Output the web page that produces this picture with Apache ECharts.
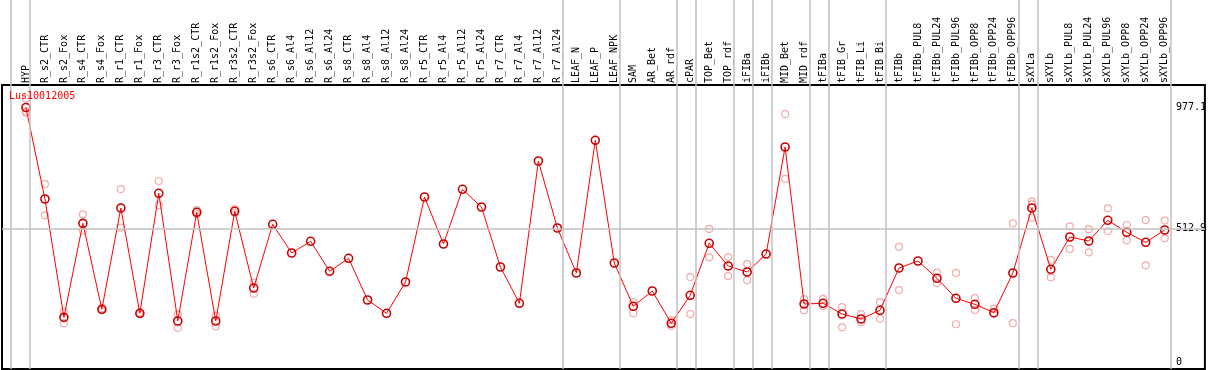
<!DOCTYPE html>
<html>
<head>
<meta charset="utf-8">
<script src="https://cdn.jsdelivr.net/npm/echarts@6/dist/echarts.min.js"></script>
<style>
html,body{margin:0;padding:0;background:#fff;}
#chart{width:1209px;height:370px;}
</style>
</head>
<body>
<div id="chart"></div>
<script>
const geneName = 'Lus10012005';
const categories = ['HYP','R_s2_CTR','R_s2_Fox','R_s4_CTR','R_s4_Fox','R_r1_CTR','R_r1_Fox','R_r3_CTR','R_r3_Fox','R_r1s2_CTR','R_r1s2_Fox','R_r3s2_CTR','R_r3s2_Fox','R_s6_CTR','R_s6_Al4','R_s6_Al12','R_s6_Al24','R_s8_CTR','R_s8_Al4','R_s8_Al12','R_s8_Al24','R_r5_CTR','R_r5_Al4','R_r5_Al12','R_r5_Al24','R_r7_CTR','R_r7_Al4','R_r7_Al12','R_r7_Al24','LEAF_N','LEAF_P','LEAF_NPK','SAM','AR_Bet','AR_rdf','cPAR','TOP_Bet','TOP_rdf','iFIBa','iFIBb','MID_Bet','MID_rdf','tFIBa','tFIB_Gr','tFIB_Li','tFIB_Bi','tFIBb','tFIBb_PUL8','tFIBb_PUL24','tFIBb_PUL96','tFIBb_OPP8','tFIBb_OPP24','tFIBb_OPP96','sXYLa','sXYLb','sXYLb_PUL8','sXYLb_PUL24','sXYLb_PUL96','sXYLb_OPP8','sXYLb_OPP24','sXYLb_OPP96'];
const means = [977.1,625.8,171.5,532.4,202.3,591.3,186.9,647.7,157.4,574.7,157.4,578.6,284.0,528.7,418.5,463.4,348.2,398.1,238.0,186.9,307.2,633.5,453.0,663.0,595.1,364.7,225.3,771.7,514.5,341.7,851.2,380.1,213.8,272.6,148.6,256.1,455.7,368.6,345.5,414.7,825.5,222.7,225.3,184.3,165.1,198.5,360.9,387.8,321.3,244.5,221.5,189.3,341.7,591.3,355.9,479.9,464.6,544.0,497.9,459.5,506.8];
const rep1 = [1012,683,193,567,206,664,190,695,183,583,178,587,305,null,null,null,null,null,null,null,null,null,null,null,null,null,null,null,null,null,null,null,230,null,161,326,511,403,376,null,952,241,242,211,184,230,442,null,343,342,245,205,532,617,392,521,510,590,526,545,543];
const rep2 = [957,563,149,504,199,516,184,602,131,568,136,573,262,null,null,null,null,null,null,null,null,null,null,null,null,null,null,null,null,null,null,null,187,null,139,184,402,330,314,null,703,199,215,133,152,166,276,null,302,145,200,184,149,553,325,434,421,502,467,371,475];
const rep3 = [962,null,null,null,null,null,null,null,null,null,null,null,null,null,null,null,null,null,null,null,null,null,null,null,null,null,null,null,null,null,null,null,null,null,null,null,null,null,null,null,null,null,null,null,null,null,null,null,null,null,null,null,null,605,null,null,null,null,null,null,null];
const tickLabels = [0, 512.9, 977.1];
const refLine = 512.9;
const groupEnds = [-1,0,28,31,34,35,37,38,39,41,42,45,52,53,60];

const X_MIN = -1.262, X_MAX = 62.118, Y_MIN = -26.9, Y_MAX = 1063.5;
const SEP_OFFSET = 0.21;
const MONO = 'DejaVu Sans Mono';

const repPoints = [];
[rep1, rep2, rep3].forEach(arr => arr.forEach((v, i) => { if (v != null) repPoints.push([i, v]); }));
const meanPoints = means.map((v, i) => [i, v]);

const chart = echarts.init(document.getElementById('chart'), null, {renderer: 'canvas'});
chart.setOption({
  animation: false,
  backgroundColor: '#fff',
  title: {
    text: geneName, left: 9, top: 91, padding: 0, z: 10,
    textStyle: {fontFamily: MONO, fontSize: 10, color: '#ff0000', fontWeight: 'normal'}
  },
  grid: [
    {left: 2, top: 0, width: 1205, height: 369, show: false},
    {left: 2, top: 85, width: 1205, height: 284, show: true, borderColor: '#000', borderWidth: 2, backgroundColor: 'transparent', z: 5}
  ],
  xAxis: [
    {gridIndex: 0, type: 'value', min: X_MIN, max: X_MAX, show: false},
    {gridIndex: 1, type: 'value', min: X_MIN, max: X_MAX, position: 'top',
     axisLine: {show: false}, axisTick: {show: false}, splitLine: {show: false},
     axisLabel: {
       customValues: categories.map((c, i) => i),
       formatter: v => categories[v] || '',
       rotate: 90, margin: 2, fontFamily: MONO, fontSize: 10, color: '#000'
     }}
  ],
  yAxis: [
    {gridIndex: 0, type: 'value', min: 0, max: 1, show: false},
    {gridIndex: 1, type: 'value', min: Y_MIN, max: Y_MAX, position: 'right',
     axisLine: {show: false}, axisTick: {show: false}, splitLine: {show: false},
     axisLabel: {
       inside: true, align: 'left', margin: 29,
       customValues: tickLabels,
       formatter: v => String(v),
       fontFamily: MONO, fontSize: 10, color: '#000'
     }}
  ],
  series: [
    {
      type: 'scatter', xAxisIndex: 0, yAxisIndex: 0, data: [[0, 0.5]], symbolSize: 0, silent: true,
      markLine: {
        silent: true, symbol: ['none', 'none'], label: {show: false},
        lineStyle: {color: '#c0c0c0', width: 1.5, type: 'solid'},
        data: groupEnds.map(g => ({xAxis: g + SEP_OFFSET}))
      }
    },
    {
      type: 'scatter', xAxisIndex: 1, yAxisIndex: 1, data: repPoints, z: 3,
      symbol: 'circle', symbolSize: 7,
      itemStyle: {color: 'rgba(0,0,0,0)', borderColor: '#f09595', borderWidth: 1.2}
    },
    {
      type: 'line', xAxisIndex: 1, yAxisIndex: 1, data: meanPoints, z: 4,
      symbol: 'circle', symbolSize: 8,
      lineStyle: {color: '#ff0000', width: 1},
      itemStyle: {color: 'rgba(0,0,0,0)', borderColor: '#c80000', borderWidth: 1.6},
      markLine: {
        silent: true, symbol: ['none', 'none'], label: {show: false},
        lineStyle: {color: '#c0c0c0', width: 1.5, type: 'solid'},
        data: [{yAxis: refLine}]
      }
    }
  ]
});
</script>
</body>
</html>
